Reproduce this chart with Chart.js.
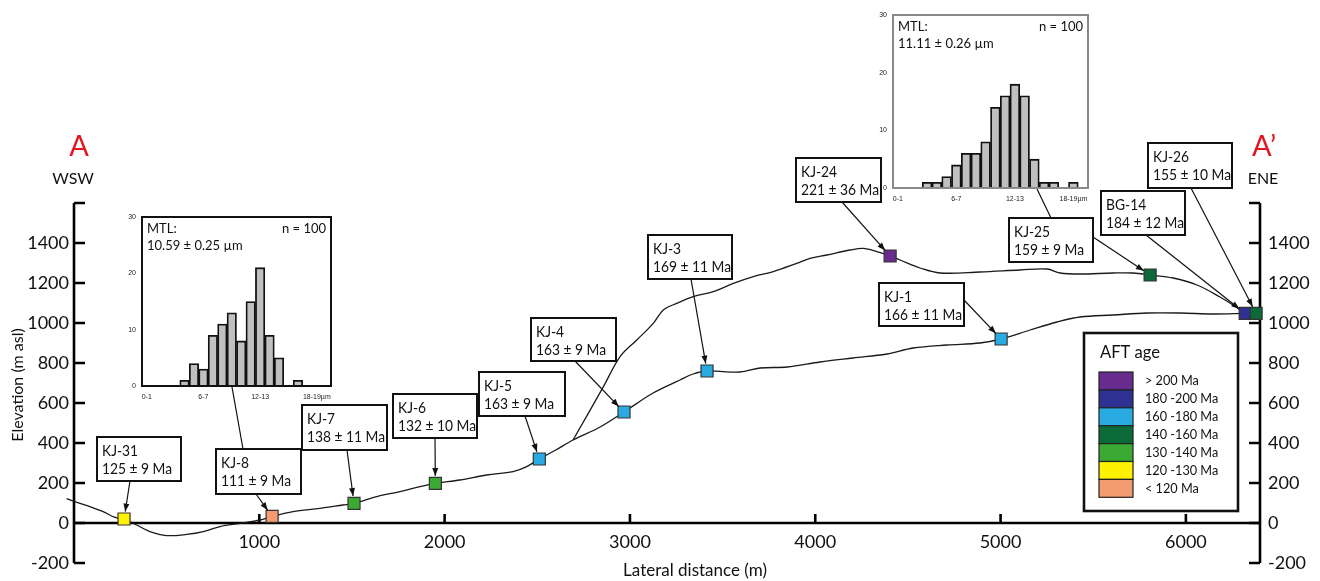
<!DOCTYPE html>
<html>
<head>
<meta charset="utf-8">
<title>AFT ages along profile A–A'</title>
<script src="https://cdn.jsdelivr.net/npm/chart.js@4.4.1/dist/chart.umd.min.js"></script>
<style>
  html, body { margin: 0; padding: 0; background: #fff; }
  #wrap { position: relative; width: 1320px; height: 581px; overflow: hidden; }
  #wrap canvas { position: absolute; }
</style>
</head>
<body>
<div id="wrap">
  <canvas id="profile" width="1320" height="581" style="left:0;top:0"></canvas>
  <canvas id="histA" width="240" height="205" style="left:112px;top:205px"></canvas>
  <canvas id="histB" width="240" height="205" style="left:862px;top:3px"></canvas>
</div>
<script>
// ---- Topographic profiles (lateral distance in m, elevation in m asl) ----
const lowerDist = [-40, 5, 86, 157, 221, 270, 338, 410, 500, 608, 698, 788, 896, 1004, 1069, 1182, 1328, 1452, 1511, 1634, 1759, 1867, 1950, 2083, 2227, 2369, 2443, 2511, 2600, 2693, 2839, 2968, 3125, 3270, 3341, 3416, 3594, 3702, 3848, 4026, 4204, 4387, 4528, 4711, 4889, 5003, 5159, 5305, 5429, 5607, 5791, 5969, 6147, 6320];
const lowerElev = [122, 107, 82, 57, 28, 20, -10, -43, -63, -57, -43, -18, -2, 15, 33, 57, 73, 90, 98, 132, 157, 182, 198, 215, 240, 257, 282, 320, 365, 415, 480, 555, 650, 715, 745, 760, 755, 775, 780, 805, 825, 845, 875, 890, 900, 920, 965, 1005, 1030, 1040, 1050, 1050, 1045, 1048];

const upperDist = [2693, 2857, 2947, 3037, 3126, 3180, 3252, 3342, 3450, 3558, 3666, 3774, 3900, 3972, 4062, 4188, 4260, 4332, 4404, 4458, 4566, 4673, 4889, 5105, 5251, 5321, 5429, 5607, 5715, 5807, 5931, 6060, 6184, 6254, 6320];
const upperElev = [415, 682, 832, 915, 998, 1065, 1098, 1132, 1157, 1198, 1232, 1257, 1298, 1323, 1340, 1365, 1373, 1357, 1335, 1315, 1275, 1250, 1255, 1265, 1270, 1250, 1245, 1250, 1250, 1240, 1225, 1190, 1130, 1090, 1048];

// ---- Samples ----
const sampleNames = ['KJ-31', 'KJ-8', 'KJ-7', 'KJ-6', 'KJ-5', 'KJ-4', 'KJ-3', 'KJ-24', 'KJ-1', 'KJ-25', 'BG-14', 'KJ-26'];
const sampleDist  = [270, 1069, 1511, 1950, 2511, 2968, 3416, 4404, 5003, 5807, 6320, 6379];
const sampleElev  = [20, 33, 98, 198, 320, 555, 760, 1335, 920, 1240, 1048, 1048];
const sampleAge   = [125, 111, 138, 132, 163, 163, 169, 221, 166, 159, 184, 155];
const sampleErr   = [9, 9, 11, 10, 9, 9, 11, 36, 11, 9, 12, 10];

// ---- AFT age classes ----
const ageClassLabels = ['> 200 Ma', '180 -200 Ma', '160 -180 Ma', '140 -160 Ma', '130 -140 Ma', '120 -130 Ma', '< 120 Ma'];
const ageClassFloor  = [200, 180, 160, 140, 130, 120, 0];
const ageClassColors = ['#682b8e', '#2e3192', '#29abe2', '#0b6a37', '#3aaa35', '#fff200', '#f49c6f'];

// ---- Axis ticks ----
const xTicks = [1000, 2000, 3000, 4000, 5000, 6000];
const yTicks = [-200, 0, 200, 400, 600, 800, 1000, 1200, 1400, 1600];
const yTickLabels = ['-200', '0', '200', '400', '600', '800', '1000', '1200', '1400', ''];

// ---- Track length histograms ----
const lengthBins = ['0-1', '1-2', '2-3', '3-4', '4-5', '5-6', '6-7', '7-8', '8-9', '9-10', '10-11', '11-12', '12-13', '13-14', '14-15', '15-16', '16-17', '17-18', '18-19', '19-20'];
const lengthBinTicks = ['0-1', '6-7', '12-13', '18-19µm'];
const countsKJ8  = [0, 0, 0, 0, 1, 4, 3, 9, 11, 13, 8, 15, 21, 9, 5, 0, 1, 0, 0, 0];
const countsKJ25 = [0, 0, 0, 1, 1, 2, 4, 6, 6, 8, 14, 16, 18, 16, 5, 1, 1, 0, 1, 0];
const countTicks = [0, 10, 20, 30];

// ---- Callout layout: box [left, top, width, height] and leader start, in px ----
const calloutBox = [
  [97, 437, 84, 44], [216, 449, 85, 45], [302, 405, 85, 45], [393, 394, 84, 44],
  [479, 372, 86, 44], [531, 318, 85, 43], [648, 235, 84, 44], [796, 158, 85, 44],
  [879, 283, 85, 43], [1009, 218, 84, 44], [1101, 191, 84, 44], [1148, 143, 84, 45]
];
const calloutFrom = [
  [130, 481], [256, 494], [347, 450], [435, 438], [525, 416], [575, 361],
  [691, 279], [842, 202], [964, 300], [1093, 237], [1146, 235], [1191, 188]
];

const FONT = 'Lato, "Open Sans", sans-serif';

function classColor(age) {
  for (let i = 0; i < ageClassFloor.length; i++) {
    if (age >= ageClassFloor[i]) return ageClassColors[i];
  }
  return ageClassColors[ageClassColors.length - 1];
}

function pts(xs, ys) { return xs.map((x, i) => ({ x, y: ys[i] })); }

// Text drawn slightly condensed horizontally
function condensedText(ctx, txt, x, y, sx) {
  ctx.save();
  ctx.translate(x, y);
  ctx.scale(sx, 1);
  ctx.fillText(txt, 0, 0);
  ctx.restore();
}

function arrowLine(ctx, x1, y1, x2, y2) {
  ctx.beginPath();
  ctx.moveTo(x1, y1);
  ctx.lineTo(x2, y2);
  ctx.stroke();
  const a = Math.atan2(y2 - y1, x2 - x1);
  const len = 8, hw = 3;
  ctx.beginPath();
  ctx.moveTo(x2, y2);
  ctx.lineTo(x2 - len * Math.cos(a) + hw * Math.sin(a), y2 - len * Math.sin(a) - hw * Math.cos(a));
  ctx.lineTo(x2 - len * Math.cos(a) - hw * Math.sin(a), y2 - len * Math.sin(a) + hw * Math.cos(a));
  ctx.closePath();
  ctx.fill();
}

// Axes: framed left/right elevation axes and the sea-level distance axis
const profileAxes = {
  id: 'profileAxes',
  beforeDatasetsDraw(chart) {
    const { ctx, chartArea: ca, scales: { x, y } } = chart;
    const y0 = y.getPixelForValue(0);
    ctx.save();
    ctx.strokeStyle = '#000';
    ctx.fillStyle = '#111';
    ctx.lineWidth = 2.6;
    ctx.lineCap = 'butt';
    ctx.beginPath();
    ctx.moveTo(ca.left, ca.top); ctx.lineTo(ca.left, ca.bottom);
    ctx.moveTo(ca.right, ca.top); ctx.lineTo(ca.right, ca.bottom);
    ctx.moveTo(ca.left, y0); ctx.lineTo(ca.right, y0);
    ctx.stroke();

    ctx.font = '18px ' + FONT;
    ctx.textBaseline = 'middle';
    yTicks.forEach((v, i) => {
      const py = y.getPixelForValue(v);
      ctx.beginPath();
      ctx.moveTo(ca.left, py); ctx.lineTo(ca.left + 11, py);
      ctx.moveTo(ca.right, py); ctx.lineTo(ca.right - 11, py);
      ctx.stroke();
      ctx.textAlign = 'right';
      ctx.fillText(yTickLabels[i], ca.left - 5, py);
      ctx.textAlign = 'left';
      ctx.fillText(yTickLabels[i], ca.right + 8, py);
    });
    ctx.textAlign = 'center';
    xTicks.forEach(v => {
      const px = x.getPixelForValue(v);
      ctx.beginPath();
      ctx.moveTo(px, y0); ctx.lineTo(px, y0 - 9);
      ctx.stroke();
      ctx.fillText(String(v), px, y0 + 19);
    });

    ctx.font = '17px ' + FONT;
    ctx.fillText('Lateral distance (m)', 695, 571);
    ctx.save();
    ctx.translate(18, 385);
    ctx.rotate(-Math.PI / 2);
    ctx.font = '16px ' + FONT;
    ctx.fillText('Elevation (m asl)', 0, 0);
    ctx.restore();

    // Section end labels
    ctx.fillStyle = '#e3151f';
    ctx.font = '29px ' + FONT;
    ctx.fillText('A', 79, 147);
    ctx.fillText('A\u2019', 1264, 147);
    ctx.fillStyle = '#111';
    ctx.font = '16px ' + FONT;
    ctx.fillText('WSW', 73, 179);
    ctx.fillText('ENE', 1263, 179);
    ctx.restore();
  },
  afterDatasetsDraw(chart) {
    const { ctx, scales: { x, y } } = chart;
    ctx.save();
    // leaders from the histogram insets to their samples' boxes
    ctx.strokeStyle = '#111';
    ctx.lineWidth = 1.2;
    ctx.beginPath();
    ctx.moveTo(232, 387); ctx.lineTo(243, 449);
    ctx.moveTo(1037, 189); ctx.lineTo(1051, 218);
    ctx.stroke();

    ctx.fillStyle = '#111';
    sampleNames.forEach((name, i) => {
      const cx = x.getPixelForValue(sampleDist[i]);
      const cy = y.getPixelForValue(sampleElev[i]);
      const [fx, fy] = calloutFrom[i];
      const d = Math.hypot(fx - cx, fy - cy);
      const tx = cx + (fx - cx) / d * 7.5;
      const ty = cy + (fy - cy) / d * 7.5;
      ctx.lineWidth = 1.2;
      arrowLine(ctx, fx, fy, tx, ty);
    });

    sampleNames.forEach((name, i) => {
      const [bx, by, bw, bh] = calloutBox[i];
      ctx.fillStyle = '#fff';
      ctx.fillRect(bx, by, bw, bh);
      ctx.lineWidth = 2;
      ctx.strokeStyle = '#111';
      ctx.strokeRect(bx, by, bw, bh);
      ctx.fillStyle = '#111';
      ctx.font = '15px ' + FONT;
      ctx.textAlign = 'left';
      ctx.textBaseline = 'middle';
      condensedText(ctx, name, bx + 5, by + 14, 0.92);
      condensedText(ctx, sampleAge[i] + ' \u00b1 ' + sampleErr[i] + ' Ma', bx + 5, by + 32, 0.92);
    });

    // AFT age legend
    const L = { x: 1084, y: 333, w: 154, h: 178 };
    ctx.fillStyle = '#fff';
    ctx.fillRect(L.x, L.y, L.w, L.h);
    ctx.lineWidth = 2.6;
    ctx.strokeStyle = '#111';
    ctx.strokeRect(L.x, L.y, L.w, L.h);
    ctx.fillStyle = '#111';
    ctx.font = '18px ' + FONT;
    condensedText(ctx, 'AFT age', 1100, 352, 0.92);
    ctx.font = '13.5px ' + FONT;
    ageClassLabels.forEach((lab, i) => {
      const sy = 372 + i * 17.9;
      ctx.fillStyle = ageClassColors[i];
      ctx.fillRect(1099, sy, 34, 17.9);
      ctx.lineWidth = 1.2;
      ctx.strokeStyle = '#222';
      ctx.strokeRect(1099, sy, 34, 17.9);
      ctx.fillStyle = '#111';
      condensedText(ctx, lab, 1145, sy + 9, 0.94);
    });
    ctx.restore();
  }
};

new Chart(document.getElementById('profile'), {
  type: 'scatter',
  data: {
    datasets: [
      {
        label: 'Profile (valley)',
        data: pts(lowerDist, lowerElev),
        showLine: true, pointRadius: 0, borderColor: '#1a1a1a', borderWidth: 1.3,
        tension: 0.35, clip: false, order: 3
      },
      {
        label: 'Profile (ridge)',
        data: pts(upperDist, upperElev),
        showLine: true, pointRadius: 0, borderColor: '#1a1a1a', borderWidth: 1.3,
        tension: 0.35, clip: false, order: 2
      },
      {
        label: 'AFT samples',
        data: pts(sampleDist, sampleElev),
        pointStyle: 'rect', pointRadius: 8.5, pointHoverRadius: 8.5,
        pointBackgroundColor: sampleAge.map(classColor),
        pointBorderColor: '#333', pointBorderWidth: 1.2,
        showLine: false, clip: false, order: 1
      }
    ]
  },
  options: {
    responsive: false,
    animation: false,
    devicePixelRatio: 1,
    layout: { padding: { left: 74, right: 60, top: 203, bottom: 18 } },
    plugins: { legend: { display: false }, tooltip: { enabled: false } },
    scales: {
      x: { type: 'linear', min: 0, max: 6400, display: false },
      y: { type: 'linear', min: -200, max: 1600, display: false }
    }
  },
  plugins: [profileAxes]
});

// Track length histogram insets
function histogram(id, counts, opt) {
  const frame = {
    id: 'frame_' + id,
    afterDraw(chart) {
      const { ctx, chartArea: ca, scales: { x, y } } = chart;
      ctx.save();
      ctx.strokeStyle = opt.frameColor;
      ctx.lineWidth = 2;
      ctx.strokeRect(ca.left, ca.top, ca.right - ca.left, ca.bottom - ca.top);
      ctx.fillStyle = '#222';
      ctx.font = '7px "Liberation Sans", Arial, sans-serif';
      ctx.textAlign = 'right';
      ctx.textBaseline = 'middle';
      countTicks.forEach(v => ctx.fillText(String(v), ca.left - 6, y.getPixelForValue(v)));
      ctx.textAlign = 'center';
      lengthBinTicks.forEach((lab, k) => {
        ctx.fillText(lab, x.getPixelForValue(k * 6), ca.bottom + 11);
      });
      ctx.fillStyle = '#111';
      ctx.font = '13px ' + FONT;
      ctx.textAlign = 'left';
      ctx.fillText('MTL:', ca.left + 5, ca.top + 12);
      ctx.fillText(opt.mtl, ca.left + 5, ca.top + 29);
      ctx.textAlign = 'right';
      ctx.fillText('n = 100', ca.right - 5, ca.top + 12);
      ctx.restore();
    }
  };
  new Chart(document.getElementById(id), {
    type: 'bar',
    data: {
      labels: lengthBins,
      datasets: [{
        data: counts.map(c => (c > 0 ? c : null)),
        backgroundColor: '#c0c0c0', borderColor: '#111', borderWidth: 1.8,
        barPercentage: 1, categoryPercentage: 1
      }]
    },
    options: {
      responsive: false,
      animation: false,
      devicePixelRatio: 1,
      layout: { padding: opt.pad },
      plugins: { legend: { display: false }, tooltip: { enabled: false } },
      scales: {
        x: { display: false },
        y: { display: false, min: 0, max: 30 }
      }
    },
    plugins: [frame]
  });
}

histogram('histA', countsKJ8, {
  mtl: '10.59 \u00b1 0.25 \u00b5m', frameColor: '#111',
  pad: { left: 30, top: 12, right: 21, bottom: 24 }
});
histogram('histB', countsKJ25, {
  mtl: '11.11 \u00b1 0.26 \u00b5m', frameColor: '#8a8a8a',
  pad: { left: 31, top: 12, right: 14, bottom: 20 }
});
</script>
</body>
</html>
